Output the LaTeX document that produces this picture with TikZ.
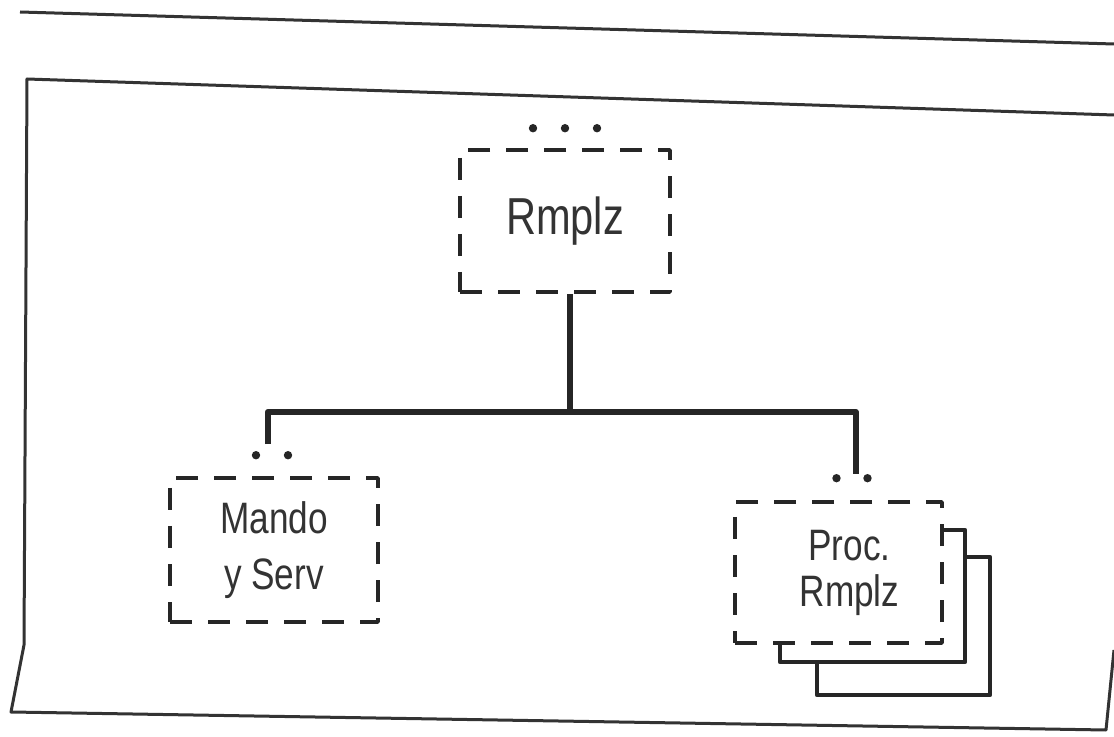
\documentclass[tikz,border=0pt]{standalone}
\usepackage{fontspec}
\setmainfont[FakeStretch=0.8]{Liberation Sans}
\begin{document}
\begin{tikzpicture}[x=0.5pt, y=-0.5pt, line join=round, every node/.style={text=black!80}, dbox/.style={draw=black!85, line width=1.8pt, dash pattern=on 11pt off 8pt, fill=white, align=center, inner sep=0pt}, sbox/.style={draw=black!85, line width=2.2pt, fill=white, inner sep=0pt}, tree/.style={draw=black!85, line width=3pt}, frame/.style={draw=black!80, line width=1.5pt}]
\useasboundingbox (0,0) rectangle (1114,737);
% page rules
\draw[frame] (20,12) -- (1114,44);
\draw[frame] (1114,115) -- (27,79) -- (24,645) -- (11,712) -- (1106,730) -- (1114,650);
% boxes
\node[dbox, minimum width=105pt, minimum height=71pt, font=\fontsize{26}{30}\selectfont] (rmplz) at (565,221) {Rmplz};
\node[dbox, minimum width=104pt, minimum height=72pt, font=\fontsize{22}{28}\selectfont] (mando) at (274,550) {Mando\\y Serv};
\node[sbox, minimum width=86.5pt, minimum height=69pt] (proc3) at (903.5,626) {};
\node[sbox, minimum width=92.5pt, minimum height=66pt] (proc2) at (872.5,596) {};
\node[dbox, minimum width=103.5pt, minimum height=70.5pt, font=\fontsize{22}{23}\selectfont] (proc) at (838.5,572.5) {\hspace*{11pt}Proc.\\\hspace*{11pt}Rmplz};
% dots
\foreach \dx in {-16,0,16} \fill[black!85] ([xshift=\dx pt, yshift=10pt]rmplz.north) circle (2.1pt);
\foreach \dx in {-9,7} \fill[black!85] ([xshift=\dx pt, yshift=10.5pt]mando.north) circle (2.1pt);
\foreach \dx in {-1,14.5} \fill[black!85] ([xshift=\dx pt, yshift=11pt]proc.north) circle (2.1pt);
% tree
\draw[tree] ([xshift=2.5pt]rmplz.south) -- ++(0,118) coordinate (fork);
\draw[tree] ([xshift=-3pt, yshift=16pt]mando.north) |- (fork) -| ([xshift=8.5pt, yshift=13pt]proc.north);
\end{tikzpicture}
\end{document}
